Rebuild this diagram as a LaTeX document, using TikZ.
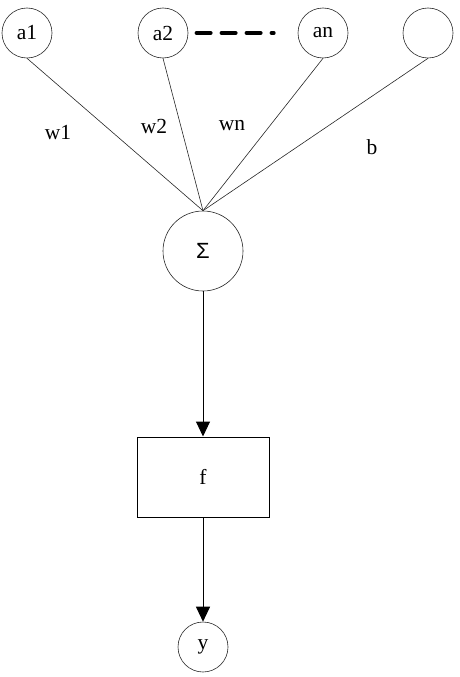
\documentclass[tikz,border=0pt]{standalone}
\usepackage{fontspec}
\setmainfont{Liberation Serif}
\newfontfamily\sumfont{Liberation Sans}
\usepackage{tikz}
\usetikzlibrary{arrows.meta}

\begin{document}
\begin{tikzpicture}[x=1pt,y=-1pt,
		unit/.style={circle,draw=black!85,line width=0.6pt,minimum size=50pt,inner sep=0pt,
			font=\fontsize{21.5}{25}\selectfont},
		spoke/.style={black!85,line width=0.6pt},
		weight/.style={font=\fontsize{21.5}{25}\selectfont},
		flow/.style={line width=1pt,-{Triangle[length=15pt,width=14pt]}},
		etc/.style={line width=4pt,line cap=round,dash pattern=on 14pt off 11pt}]
		
		% --- frame of the picture (pixel units) ---
		\useasboundingbox (0,0) rectangle (460,677);
		
		% inputs a1 ... an and the bias unit
		\foreach \name/\x/\lab in {a1/27/a1, a2/163/a2, an/323/an, bias/428/{}}{
			\node[unit] (\name) at (\x,33) {\lab};
		}
		
		% dashes between a2 and an
		\draw[etc,shorten <=8.3pt,shorten >=24pt] (a2.east) -- (an.west);
		
		% summing junction
		\node[unit,minimum size=80pt,font=\sumfont\fontsize{22}{26}\selectfont] (sum) at (203,251) {Σ};
		
		% weighted links into the sum
		\foreach \name in {a1,a2,an,bias}
			\draw[spoke] (\name.south) -- (sum.north);
		
		% weights
		\node[weight] (w1) at (58,133) {w1};
		\node[weight] (w2) at (154,126) {w2};
		\node[weight] (wn) at (232,126) {wn};
		\node[weight] (b)  at (372,147) {b};
		
		% --- activation and output ---
		\node[draw,line width=1pt,minimum width=132pt,minimum height=80pt,
			font=\fontsize{21.5}{25}\selectfont] (act) at (203,477) {f};
		\node[unit] (out) at (203,647) {y};
		
		\draw[flow] (sum) -- (act);
		\draw[flow] (act) -- (out);
		
	\end{tikzpicture}
\end{document}
